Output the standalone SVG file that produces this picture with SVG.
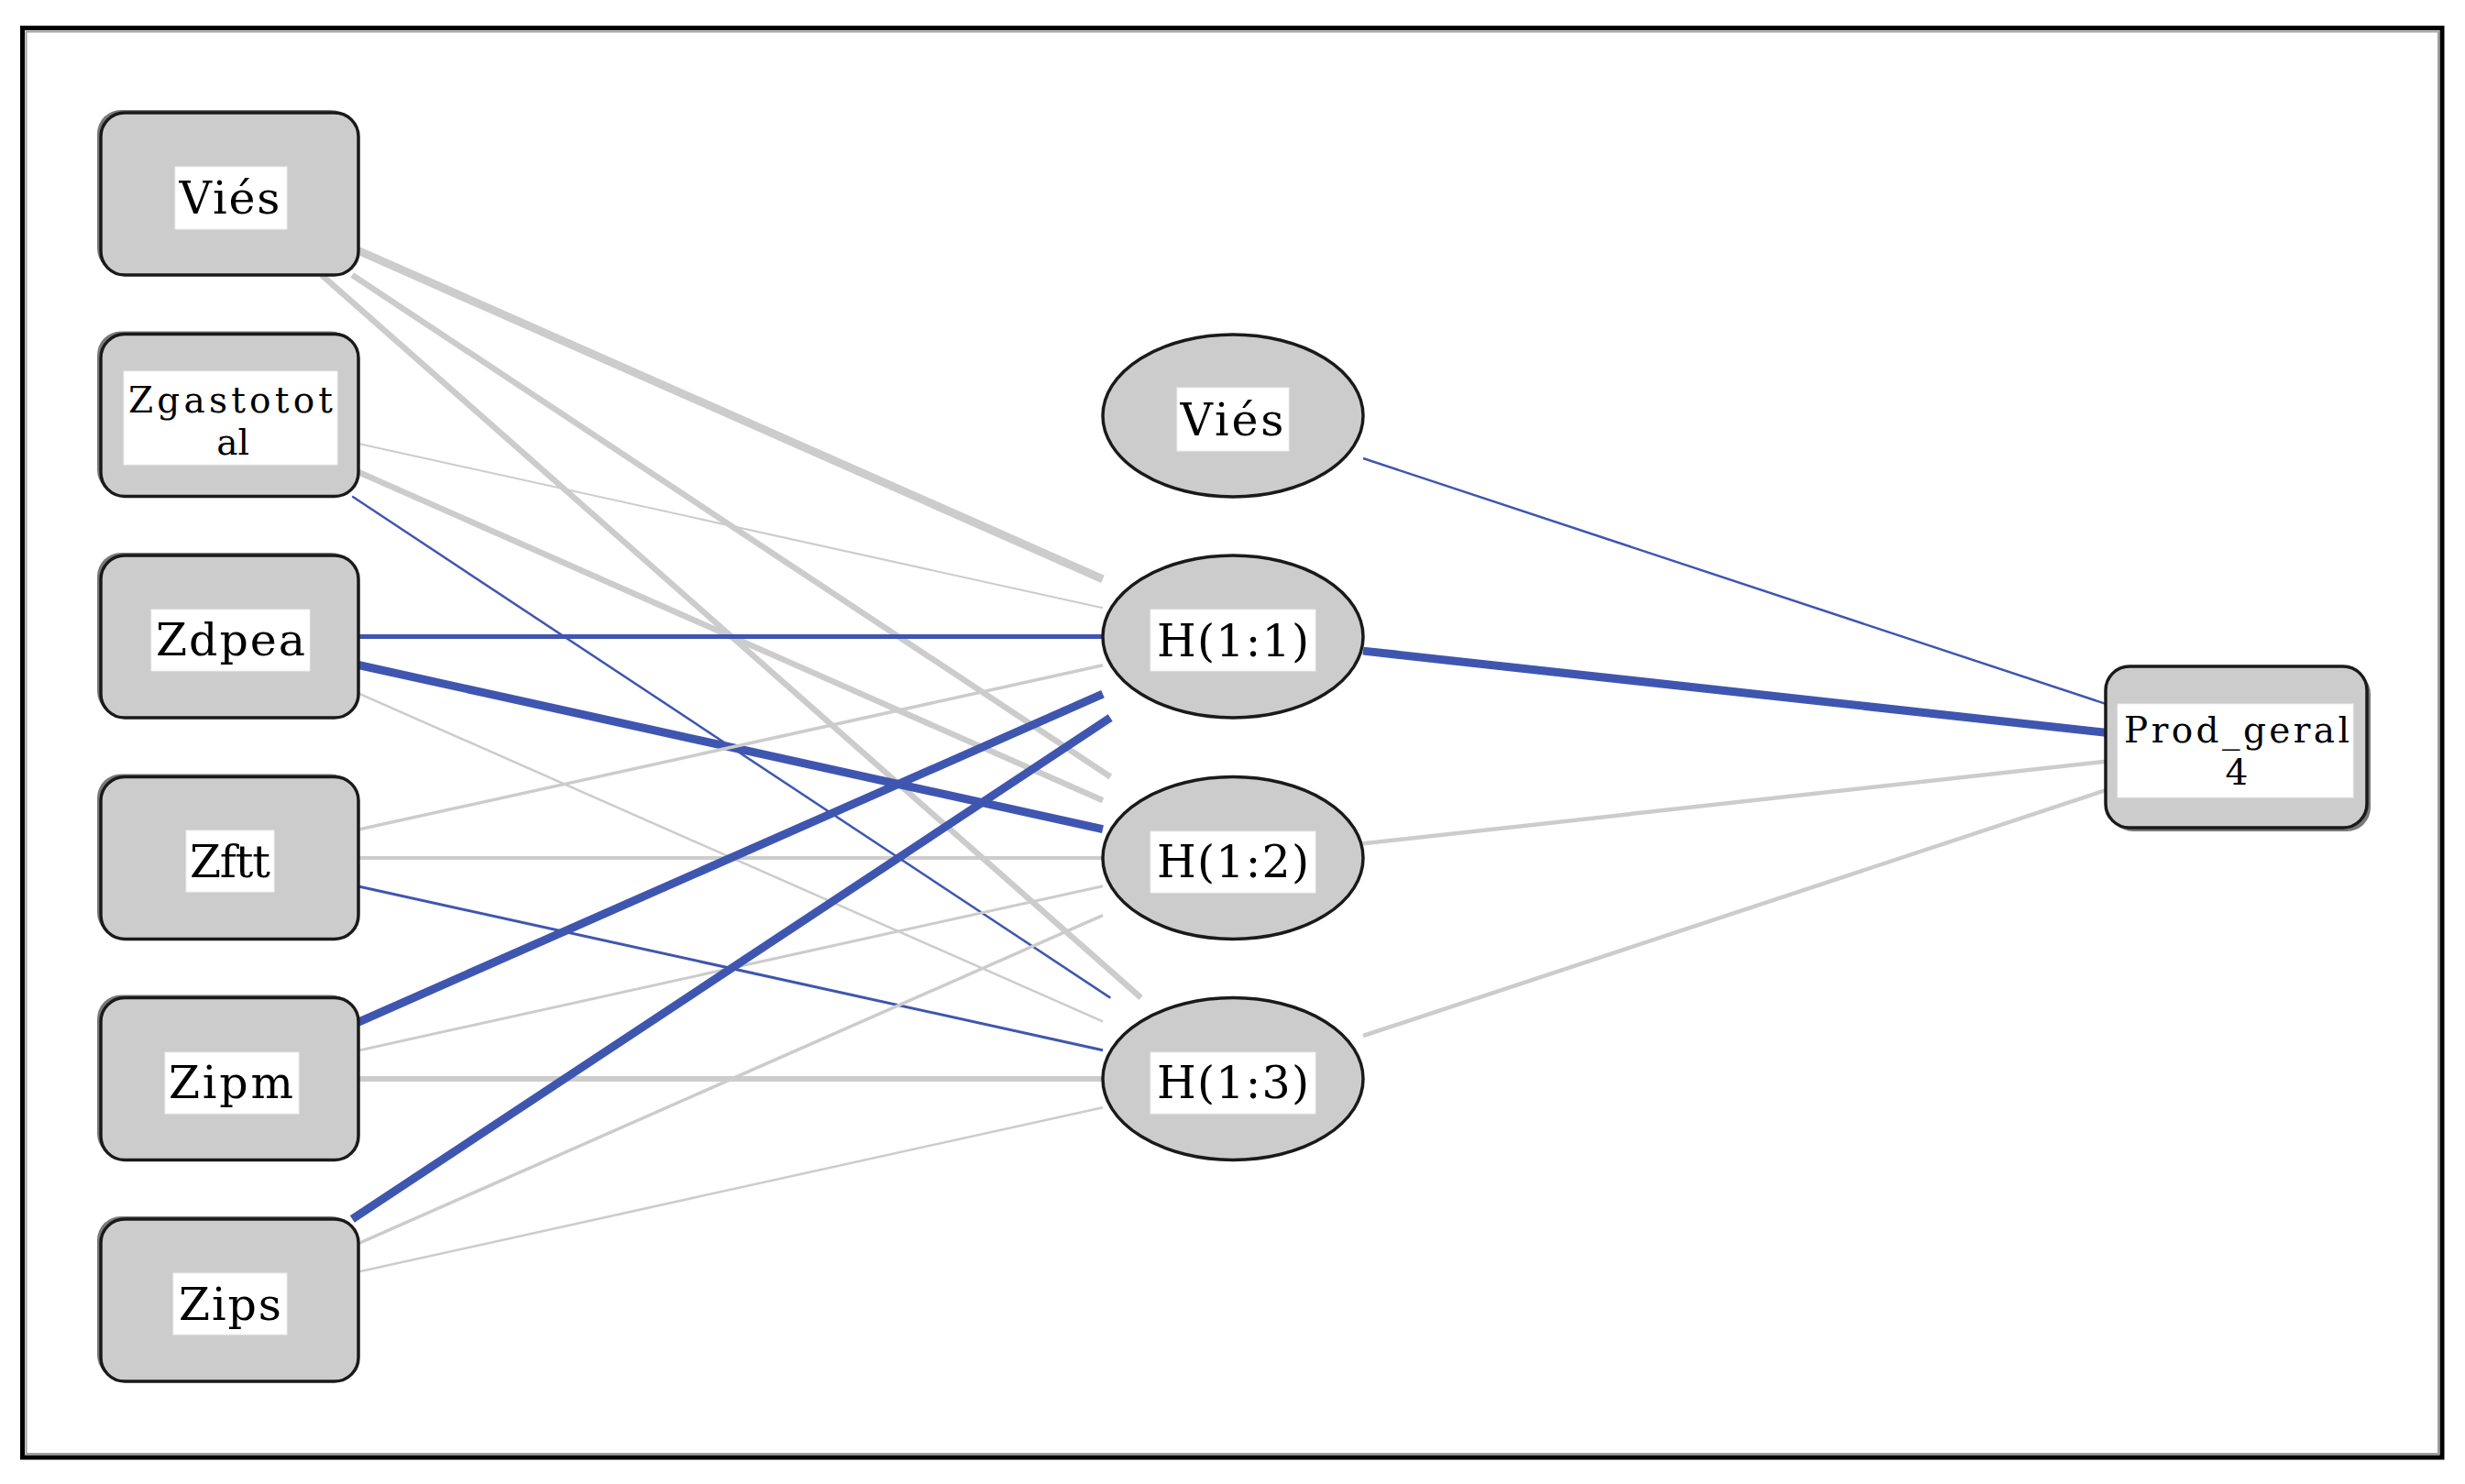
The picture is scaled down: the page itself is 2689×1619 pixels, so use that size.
<svg xmlns="http://www.w3.org/2000/svg" width="2689" height="1619" viewBox="0 0 2689 1619">
<style>
.frame{fill:none;stroke:#000;stroke-width:5}
.frame2{fill:none;stroke:#a0a0a0;stroke-width:2}
.node{fill:#cccccc;stroke:#1a1a1a;stroke-width:3.5}
.shadow{fill:#7a7a7a;stroke:none}
.box{fill:#ffffff;stroke:#eeeeee;stroke-width:1}
.lbl{font-family:"DejaVu Serif","Liberation Serif",serif;font-size:49px;fill:#000;text-anchor:middle}
.sm{font-size:39px}
.g{stroke:#cccccc;fill:none}
.b{stroke:#3f56b0;fill:none}
</style>
<rect x="0" y="0" width="2689" height="1619" fill="#ffffff"/>
<rect class="frame" x="24.5" y="30.5" width="2639.5" height="1559.5"/>
<rect class="frame2" x="28.5" y="34.5" width="2631.5" height="1551.5"/>

<g id="connectors">
  <line class="g" stroke-width="9" x1="391" y1="273.5" x2="1203" y2="631.8"/>
  <line class="g" stroke-width="6.5" x1="384.2" y1="300" x2="1211.3" y2="847.5"/>
  <line class="g" stroke-width="6.5" x1="350.8" y1="300" x2="1244.7" y2="1088.5"/>
  <line class="g" stroke-width="2" x1="391" y1="484" x2="1203" y2="663.2"/>
  <line class="g" stroke-width="6.5" x1="391" y1="515" x2="1203" y2="873.3"/>
  <line class="b" stroke-width="2.5" x1="384.2" y1="541.5" x2="1211.3" y2="1088.6"/>
  <line class="b" stroke-width="5" x1="391" y1="694.5" x2="1203" y2="694.5"/>
  <line class="b" stroke-width="9" x1="391" y1="725.5" x2="1203" y2="904.7"/>
  <line class="g" stroke-width="2.5" x1="391" y1="756.4" x2="1203" y2="1114.4"/>
  <line class="g" stroke-width="3.5" x1="391" y1="905" x2="1203" y2="725.8"/>
  <line class="g" stroke-width="4" x1="391" y1="936" x2="1203" y2="936"/>
  <line class="b" stroke-width="3" x1="391" y1="967" x2="1203" y2="1145.7"/>
  <line class="b" stroke-width="9" x1="391" y1="1115.1" x2="1203" y2="757.1"/>
  <line class="g" stroke-width="3" x1="391" y1="1146.1" x2="1203" y2="966.7"/>
  <line class="g" stroke-width="6" x1="391" y1="1177" x2="1203" y2="1177"/>
  <line class="b" stroke-width="9" x1="384.3" y1="1330" x2="1211.2" y2="783"/>
  <line class="g" stroke-width="3.5" x1="391" y1="1356.6" x2="1203" y2="998.6"/>
  <line class="g" stroke-width="2.5" x1="391" y1="1387.5" x2="1203" y2="1208.2"/>
  <line class="b" stroke-width="2.5" x1="1487" y1="500" x2="2297" y2="767.9"/>
  <line class="b" stroke-width="9" x1="1487" y1="710.1" x2="2297" y2="799.3"/>
  <line class="g" stroke-width="4.5" x1="1487" y1="920.3" x2="2297" y2="830.7"/>
  <line class="g" stroke-width="4.5" x1="1487" y1="1130" x2="2297" y2="862.1"/>
</g>

<g id="in_vies">
  <rect class="shadow" x="106" y="120" width="281" height="177" rx="26"/>
  <rect class="node" x="110" y="123" width="281" height="177" rx="26"/>
  <rect class="box" x="191" y="182" width="122" height="68"/>
  <text class="lbl" x="250.5" y="233" textLength="110" lengthAdjust="spacing">Viés</text>
</g>
<g id="in_zgastototal">
  <rect class="shadow" x="106" y="361.5" width="281" height="177" rx="26"/>
  <rect class="node" x="110" y="364.5" width="281" height="177" rx="26"/>
  <rect class="box" x="135" y="405" width="233" height="102"/>
  <text class="lbl sm"><tspan x="251.5" y="450" textLength="223" lengthAdjust="spacing">Zgastotot</tspan><tspan x="254" y="496">al</tspan></text>
</g>
<g id="in_zdpea">
  <rect class="shadow" x="106" y="603" width="281" height="177" rx="26"/>
  <rect class="node" x="110" y="606" width="281" height="177" rx="26"/>
  <rect class="box" x="165" y="665" width="173" height="67"/>
  <text class="lbl" x="251.5" y="715" textLength="163" lengthAdjust="spacing">Zdpea</text>
</g>
<g id="in_zftt">
  <rect class="shadow" x="106" y="844.5" width="281" height="177" rx="26"/>
  <rect class="node" x="110" y="847.5" width="281" height="177" rx="26"/>
  <rect class="box" x="203" y="906" width="96" height="67"/>
  <text class="lbl" x="251" y="957" textLength="88" lengthAdjust="spacing">Zftt</text>
</g>
<g id="in_zipm">
  <rect class="shadow" x="106" y="1085.5" width="281" height="177" rx="26"/>
  <rect class="node" x="110" y="1088.5" width="281" height="177" rx="26"/>
  <rect class="box" x="180" y="1148" width="146" height="67"/>
  <text class="lbl" x="252" y="1198" textLength="136" lengthAdjust="spacing">Zipm</text>
</g>
<g id="in_zips">
  <rect class="shadow" x="106" y="1327" width="281" height="177" rx="26"/>
  <rect class="node" x="110" y="1330" width="281" height="177" rx="26"/>
  <rect class="box" x="189" y="1389" width="124" height="67"/>
  <text class="lbl" x="251" y="1440" textLength="112" lengthAdjust="spacing">Zips</text>
</g>

<g id="hid_vies">
  <ellipse class="node" cx="1345" cy="453.5" rx="142" ry="88.5"/>
  <rect class="box" x="1284" y="423" width="122" height="69"/>
  <text class="lbl" x="1344" y="474.5" textLength="113" lengthAdjust="spacing">Viés</text>
</g>
<g id="h11">
  <ellipse class="node" cx="1345" cy="694.5" rx="142" ry="88.5"/>
  <rect class="box" x="1255" y="665" width="180" height="67"/>
  <text class="lbl" x="1345" y="715.5" textLength="166" lengthAdjust="spacing">H(1:1)</text>
</g>
<g id="h12">
  <ellipse class="node" cx="1345" cy="936" rx="142" ry="88.5"/>
  <rect class="box" x="1255" y="907" width="180" height="67"/>
  <text class="lbl" x="1345" y="957" textLength="166" lengthAdjust="spacing">H(1:2)</text>
</g>
<g id="h13">
  <ellipse class="node" cx="1345" cy="1177" rx="142" ry="88.5"/>
  <rect class="box" x="1255" y="1148" width="180" height="67"/>
  <text class="lbl" x="1345" y="1198" textLength="166" lengthAdjust="spacing">H(1:3)</text>
</g>

<g id="out_prod">
  <rect class="shadow" x="2301" y="731" width="285" height="176" rx="26"/>
  <rect class="node" x="2297" y="727" width="285" height="176" rx="26"/>
  <rect class="box" x="2310" y="768" width="257" height="102"/>
  <text class="lbl sm"><tspan x="2440" y="810" textLength="246" lengthAdjust="spacing">Prod_geral</tspan><tspan x="2440" y="856">4</tspan></text>
</g>
</svg>
